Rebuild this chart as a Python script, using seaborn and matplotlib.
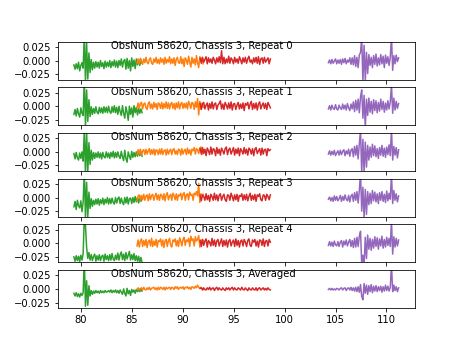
import numpy as np
import matplotlib
matplotlib.use("Agg")
import matplotlib.pyplot as plt
import seaborn as sns

# Panel titles
titles = [
    "ObsNum 58620, Chassis 3, Repeat 0",
    "ObsNum 58620, Chassis 3, Repeat 1",
    "ObsNum 58620, Chassis 3, Repeat 2",
    "ObsNum 58620, Chassis 3, Repeat 3",
    "ObsNum 58620, Chassis 3, Repeat 4",
    "ObsNum 58620, Chassis 3, Averaged",
]

# Frequency span (GHz) of each band, channels per band
band_edges = [(79.3, 86.0), (85.5, 92.0), (91.7, 98.6), (104.3, 111.2)]
band_colors = ["tab:green", "tab:orange", "tab:red", "tab:purple"]
n_chan = 60

# Spectra in units of 1e-3 (bands green, orange, red, purple per panel)
G0 = [-8,-16,-6,-15,-3,-19,-9,-4,-14,48,-40,32,-34,14,-22,2,-17,-3,-14,-2,
      -12,-3,-14,0,-11,-4,-15,-1,-12,-3,-11,0,-13,-2,-10,1,-12,-1,-13,0,
      -9,3,-12,-1,2,-16,4,-14,0,-19,5,-11,1,-15,3,-8,1,-9,2,-5]
O0 = [-5,3,-6,4,-3,-7,3,-4,6,-3,-6,2,5,-5,-7,3,-3,6,-5,2,
      -6,5,-3,3,-7,6,-5,2,-3,7,-6,3,-5,5,-9,2,6,-4,-5,7,
      -6,3,-11,5,1,-7,8,-3,-12,6,-5,3,-8,9,-4,-13,7,1,5,-6]
R0 = [4,-5,6,-3,2,7,-6,5,-3,3,-5,6,1,-6,5,-3,7,-4,18,-6,
      6,-6,3,-4,8,-5,5,1,-6,6,-3,3,-5,7,1,-6,5,-3,6,-5,
      3,8,-3,1,-6,5,-3,6,-5,7,-7,3,5,-5,6,-3,1,5,-6,3]
P0 = [-4,1,-6,2,-5,-1,3,-6,1,-5,2,-7,3,-4,4,-6,1,-3,5,-7,
      5,-8,9,-11,6,-13,10,15,42,-40,28,-38,15,-24,11,-9,6,-13,9,-7,
      12,-10,5,-8,11,-6,8,-13,10,-5,7,-9,6,46,-18,9,-6,10,-2,5]

G1 = [-15,-6,-18,-4,-14,-20,-3,-13,-17,52,-38,30,-28,12,-19,-1,-15,-4,-13,-1,
      -11,-14,-2,-12,-3,-13,-1,-11,-2,-12,0,-10,-13,-1,-11,1,-12,-2,-15,0,
      -10,-17,1,-13,-22,-1,-11,-26,0,-15,-3,-20,1,-12,-2,-16,-4,-13,-5,-12]
O1 = [-3,6,-4,5,7,-5,4,6,-3,-6,5,8,-4,4,-5,7,-2,5,-6,6,
      4,-4,7,-5,5,-3,8,-4,6,-5,4,7,-4,5,-6,6,-3,8,-5,4,
      7,-4,5,-3,6,-5,9,4,-4,7,5,-6,8,-2,14,-16,9,-5,6,-2]
R1 = [5,-6,4,7,-5,2,6,-7,5,-4,8,-5,4,6,-6,2,5,10,-5,4,
      -6,7,2,-5,6,-4,8,-7,4,5,-6,2,7,-5,4,-4,6,-8,5,2,
      7,-5,4,9,-6,5,-4,6,-7,4,8,-5,2,6,-4,5,-6,7,2,-3]
P1 = [-5,1,-7,2,-4,-6,3,-5,-7,2,-3,-6,4,-5,2,-7,5,-3,-8,4,
      -5,8,-10,11,-7,13,-12,17,30,-22,20,-40,13,-17,15,-11,9,-14,12,-8,
      10,-12,7,-9,13,-6,9,-11,6,-7,10,-5,8,40,-13,15,-7,9,-4,5]

G2 = [-3,-13,-1,-11,-15,-2,-12,0,-17,42,-42,37,-37,17,-23,3,-15,-1,-12,-2,
      -10,0,-11,-2,-13,-1,-9,-11,0,-10,-2,-12,-1,-9,1,-11,-1,-10,0,-8,
      -12,1,-9,-16,3,-12,-19,0,-8,-14,1,-10,-1,-9,0,-8,1,-7,0,-8]
O2 = [-5,4,-4,5,-6,2,4,-5,5,-4,2,6,-5,4,-4,5,-6,4,2,-5,
      5,-4,6,-5,2,4,-6,5,-4,2,5,-5,4,6,-4,2,-5,5,4,-6,
      6,-4,2,5,-5,7,-3,4,-6,5,2,8,-4,6,4,-3,7,9,-5,4]
R2 = [6,-4,8,-3,5,-7,7,2,-5,9,-4,6,4,-7,8,-3,5,-6,7,2,
      -4,6,9,-5,4,7,-4,2,8,-6,5,-3,7,-7,6,2,-4,8,-3,5,
      -6,7,4,-4,6,-7,5,8,-3,2,6,-6,7,-4,4,5,-7,6,2,4]
P2 = [-4,2,-6,1,-5,3,-7,-2,2,-6,3,-5,1,4,-7,2,-4,5,-8,3,
      6,-9,10,-6,12,-13,15,40,-40,23,-38,18,-28,12,-15,9,-10,14,-7,11,
      -9,6,-12,8,-6,12,-8,7,-10,9,-5,13,-7,42,-15,10,-6,8,-11,4]

G3 = [-17,-7,-22,-5,-15,-19,-6,-26,-8,50,-38,28,-36,10,-20,-2,-16,-5,-13,-3,
      -12,-2,-14,-4,-11,-1,-13,-3,-10,0,-12,-2,-11,-1,-9,-12,0,-10,-2,1,
      -11,-1,-9,-13,0,-10,1,-12,-2,-1,-11,0,-9,2,-8,0,-10,1,-7,-1]
O3 = [-6,3,5,-5,4,-4,6,-5,3,5,-6,7,-4,4,6,-5,3,8,-4,5,
      -5,6,4,-4,7,-6,5,9,-4,3,6,-5,8,4,-4,7,-5,5,3,8,
      -4,6,9,-5,5,7,-4,10,4,6,-5,8,5,11,3,26,-9,7,4,6]
R3 = [4,-6,5,2,-5,7,-4,4,-7,6,2,-5,8,-4,5,-6,4,7,-5,2,
      6,-4,-7,5,4,-5,8,2,-6,5,-4,6,-7,4,2,7,-5,5,-4,6,
      -6,2,8,-5,4,-4,6,-7,5,2,7,-4,-6,5,4,-5,6,2,-4,5]
P3 = [-3,1,-6,0,-7,3,-5,2,-6,-2,4,-7,2,-5,5,-3,-6,4,-8,3,
      6,-7,9,-5,11,-10,13,46,-25,19,-38,15,-31,11,-13,8,-11,13,-6,10,
      -8,7,-11,9,-5,11,-7,6,-9,12,-6,8,-3,44,-11,13,-5,7,-8,3]

G4 = [-25,-33,-23,-32,-24,-34,-22,-31,-19,50,32,-8,-28,-17,-31,-21,-32,-24,-20,-33,
      -23,-31,-21,-32,-24,-22,-33,-20,-30,-23,-32,-21,-31,-19,-29,-32,-22,-30,-18,-31,
      -21,-16,-30,-20,-32,-17,-29,-22,-15,-31,-21,-30,-19,-32,-23,-33,-24,-35,-26,-36]
O4 = [-5,6,-7,4,8,-6,5,-4,7,-8,3,6,-5,9,-6,4,-4,7,-7,5,
      3,8,-5,6,-8,4,7,-6,5,9,-4,-7,6,3,8,-5,5,-6,10,4,
      -5,7,11,-4,6,3,9,-6,13,5,8,-5,12,4,7,14,-7,6,3,5]
R4 = [5,-6,7,-4,4,8,-7,5,2,-5,9,-4,6,-6,4,7,-5,2,8,-6,
      5,-4,6,-7,4,7,-5,2,6,-6,8,-4,5,-7,4,6,-5,7,2,-6,
      5,8,-4,-6,6,2,7,-5,4,-7,6,5,-4,8,-6,4,5,-5,7,2]
P4 = [-4,3,-5,2,-6,4,-3,-5,3,-6,2,5,-7,4,-3,6,-5,2,7,-6,
      5,-8,9,-7,11,-6,13,22,-38,-22,-40,11,-28,15,-11,9,-13,7,-9,12,
      -6,10,-11,8,-5,13,-9,7,-7,11,-4,9,-6,42,-20,12,-7,9,-5,6]

G5 = [-8,-13,-7,-14,-9,-15,-8,-12,-7,55,-32,15,-30,6,-13,-3,-10,-4,-8,-3,
      -7,-4,-8,-3,-7,-4,-7,-3,-6,-5,-3,-6,-2,-7,-3,-6,-2,-7,-3,-8,
      -2,-6,-10,0,-8,-13,1,-9,-3,-12,-1,-6,-2,-8,-1,-5,-2,-5,-1,-4]
O5 = [-1,2,-2,1,2,-2,3,-1,-2,2,-1,3,-2,1,2,3,-1,2,-2,3,
      -1,3,2,-1,3,-2,3,0,2,3,-1,3,2,-1,4,1,4,-1,2,3,
      1,4,-1,3,2,4,0,3,-1,4,3,1,5,2,7,3,1,3,1,-1]
R5 = [1,2,-2,2,-1,-2,2,-1,3,-2,1,2,-3,1,3,-2,2,-1,-2,2,
      -1,-3,2,-1,2,-2,1,3,-2,2,-1,-2,2,0,-2,3,-1,-2,2,-1,
      -3,2,-1,-2,2,-1,-2,2,-3,1,2,-2,0,2,-2,1,-2,2,-1,-2]
P5 = [-1,1,-2,1,-2,0,-2,1,0,-2,1,2,-2,1,2,-3,1,2,-2,3,
      -3,2,-4,3,-5,4,-6,8,-14,-20,10,-8,7,-10,6,-5,8,-7,5,-4,
      6,-5,4,-3,5,-6,4,-4,7,-3,5,-4,3,46,-5,7,-3,4,-5,2]

spectra = [
    [G0, O0, R0, P0],
    [G1, O1, R1, P1],
    [G2, O2, R2, P2],
    [G3, O3, R3, P3],
    [G4, O4, R4, P4],
    [G5, O5, R5, P5],
]

fig, axes = plt.subplots(6, 1, sharex=True, figsize=(461 / 72, 346 / 72), dpi=72)

for ax, title, bands in zip(axes, titles, spectra):
    for (lo, hi), color, vals in zip(band_edges, band_colors, bands):
        freq = np.linspace(lo, hi, n_chan)
        sns.lineplot(x=freq, y=np.asarray(vals) * 1e-3, ax=ax,
                     color=color, linewidth=1.5, estimator=None)
    ax.set_ylim(-0.035, 0.035)
    ax.set_yticks([-0.025, 0.0, 0.025])
    ax.text(82.9, 0.021, title, fontsize=10)

axes[-1].set_xlim(77.7, 112.8)
axes[-1].set_xticks([80, 85, 90, 95, 100, 105, 110])

fig.savefig("out.png", dpi=72)
